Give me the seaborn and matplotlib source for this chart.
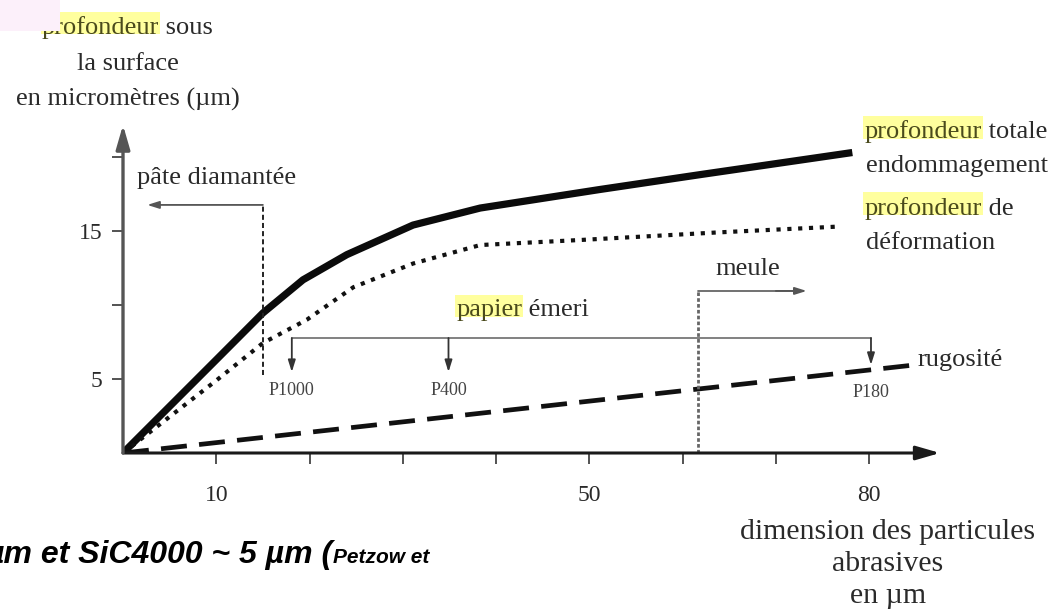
import numpy as np
import pandas as pd
import matplotlib
matplotlib.use("Agg")
import matplotlib.pyplot as plt
import matplotlib.transforms as mtransforms
from matplotlib.patches import Rectangle
import seaborn as sns

# ---------------- data (x in graduation units: 0 = origin, 1..8 = ticks) ----
x_total = [0, 1.0, 1.5, 1.93, 2.4, 3.11, 3.83, 5.11, 6.18, 7.82]
y_total = [0, 6.3, 9.46, 11.7, 13.4, 15.4, 16.55, 17.8, 18.8, 20.3]
x_deform = [0, 1.0, 1.5, 1.97, 2.47, 3.11, 3.83, 4.93, 6.37, 7.68]
y_deform = [0, 4.9, 7.43, 9.0, 11.2, 12.8, 14.05, 14.4, 14.9, 15.3]
x_rug = [0, 8.49]
y_rug = [0, 5.95]

x_ticks = [1, 2, 3, 4, 5, 6, 7, 8]
x_ticklabels = ['10', '', '', '', '50', '', '', '80']
y_ticks = [5, 10, 15, 20]
y_ticklabels = ['5', '', '15', '']

paper_grades = ['P1000', 'P400', 'P180']
paper_x = [1.81, 3.49, 8.02]

# ---------------- style ----------------
sns.set_style("white")
plt.rcParams['font.family'] = ['Liberation Serif', 'DejaVu Serif']
TXT = '#2a2a2a'
HL_TXT = '#4a4a1c'
HL = '#ffff9e'
FS = 19

fig = plt.figure(figsize=(10.59, 6.15), dpi=100)
ax = fig.add_axes([123/1059, 162/615, 817/1059, 328/615])
ax.set_facecolor('white')

sns.lineplot(data=pd.DataFrame({'x': x_total, 'y': y_total}), x='x', y='y', ax=ax,
             color='#0b0b0b', linewidth=5.2, sort=False, solid_capstyle='butt')
sns.lineplot(data=pd.DataFrame({'x': x_deform, 'y': y_deform}), x='x', y='y', ax=ax,
             color='#111111', linewidth=3.0, linestyle=(0, (1, 1.6)), sort=False)
sns.lineplot(data=pd.DataFrame({'x': x_rug, 'y': y_rug}), x='x', y='y', ax=ax,
             color='#111111', linewidth=3.4, linestyle=(0, (5.5, 2.6)), sort=False)

ax.set_xlim(0, 8.76)
ax.set_ylim(0, 22.16)
ax.set_xlabel('')
ax.set_ylabel('')
for s in ax.spines.values():
    s.set_visible(False)
ax.set_xticks(x_ticks, x_ticklabels)
ax.set_yticks(y_ticks, y_ticklabels)
ax.tick_params(bottom=True, left=True, direction='out', length=8, width=1.3,
               colors='#444444', labelcolor=TXT, labelsize=17)
ax.tick_params(axis='x', pad=15)
ax.tick_params(axis='y', pad=7)

# axis arrows
ax.annotate('', xy=(1, 0), xytext=(0, 0), xycoords='axes fraction',
            arrowprops=dict(arrowstyle='-|>,head_length=1.45,head_width=0.42',
                            lw=2.2, color='#1a1a1a', shrinkA=0, shrinkB=0,
                            mutation_scale=10), annotation_clip=False)
ax.annotate('', xy=(0, 1), xytext=(0, 0), xycoords='axes fraction',
            arrowprops=dict(arrowstyle='-|>,head_length=1.45,head_width=0.42',
                            lw=2.4, color='#555555', shrinkA=0, shrinkB=0,
                            mutation_scale=10), annotation_clip=False)

small_arrow = dict(arrowstyle='-|>,head_length=0.7,head_width=0.22', lw=1.3,
                   color='#555555', shrinkA=0, shrinkB=0, mutation_scale=10)

# pâte diamantée
ax.plot([1.5, 1.5], [5.27, 16.76], color='#222222', lw=1.4, ls=(0, (2.6, 1.6)),
        clip_on=False)
ax.annotate('', xy=(0.26, 16.76), xytext=(1.5, 16.76), arrowprops=small_arrow,
            annotation_clip=False)
ax.text(0.15, 18.6, 'pâte diamantée', fontsize=FS, color=TXT, ha='left', va='center')

# meule
ax.plot([6.17, 6.17], [0, 10.95], color='#666666', lw=2.0, ls=(0, (1.3, 0.8)),
        clip_on=False)
ax.plot([6.17, 7.25], [10.95, 10.95], color='#666666', lw=1.3)
ax.annotate('', xy=(7.33, 10.95), xytext=(7.0, 10.95), arrowprops=small_arrow,
            annotation_clip=False)
ax.text(6.7, 12.4, 'meule', fontsize=FS, color=TXT, ha='center', va='center')

# papier émeri bracket
ax.plot([paper_x[0], paper_x[-1]], [7.77, 7.77], color='#777777', lw=1.3)
for px_, yend in zip(paper_x, [5.47, 5.47, 5.95]):
    ax.annotate('', xy=(px_, yend), xytext=(px_, 7.77),
                arrowprops=dict(small_arrow, color='#333333'), annotation_clip=False)
for name, px_, yy in zip(paper_grades, paper_x, [4.19, 4.19, 4.12]):
    ax.text(px_, yy, name, fontsize=13, color='#444444', ha='center', va='center')

highlight_words = []

def two_part(x, y, word, rest, ha_word='left', fs=FS):
    t = ax.text(x, y, word, fontsize=fs, color=HL_TXT, ha=ha_word, va='center',
                clip_on=False, zorder=5)
    ax.annotate(rest, xy=(1, 0), xycoords=t, fontsize=fs, color=TXT,
                ha='left', va='bottom', annotation_clip=False, zorder=5)
    highlight_words.append(t)
    return t

two_part(4.28, 9.66, 'papier', ' émeri', ha_word='right')

# right labels
two_part(7.95, 21.7, 'profondeur', ' totale')
ax.text(7.97, 19.36, 'endommagement', fontsize=FS, color=TXT, ha='left', va='center')
two_part(7.95, 16.55, 'profondeur', ' de')
ax.text(7.97, 14.19, 'déformation', fontsize=FS, color=TXT, ha='left', va='center')
ax.text(8.52, 6.28, 'rugosité', fontsize=FS, color=TXT, ha='left', va='center')

# y axis title
two_part(0.386, 28.75, 'profondeur', ' sous', ha_word='right')
ax.text(0.05, 26.25, 'la surface', fontsize=FS, color=TXT, ha='center', va='center',
        clip_on=False)
ax.text(0.05, 23.9, 'en micromètres (µm)', fontsize=FS, color=TXT, ha='center',
        va='center', clip_on=False)

# x axis title
ax.text(8.2, -4.45, 'dimension des particules\nabrasives\nen µm', fontsize=21.5,
        color=TXT, ha='center', va='top', linespacing=1.3, multialignment='center',
        clip_on=False)

# bottom-left cropped caption
cap = fig.text(-0.013, (615 - 563) / 615, 'µm et SiC4000 ~ 5 µm (',
               family=['Liberation Sans', 'DejaVu Sans'], weight='bold', style='italic',
               fontsize=23, color='black', va='baseline', ha='left')
fig.canvas.draw()
plt.annotate('Petzow et', xy=(1, 0.24), xycoords=cap, fontsize=15,
             family=['Liberation Sans', 'DejaVu Sans'], weight='bold',
             style='italic', color='black', ha='left', va='baseline',
             annotation_clip=False)

# yellow highlights behind words
fig.canvas.draw()
for t in highlight_words:
    bb = t.get_window_extent()
    h = bb.height
    r = Rectangle((bb.x0 - 1, bb.y0 + 0.2 * h), bb.width + 2, h * 0.98,
                  transform=mtransforms.IdentityTransform(), fc=HL, ec='none',
                  zorder=1, clip_on=False)
    ax.add_patch(r)

# pink scan artefact, top-left, lying over the start of the first word
ax.add_patch(Rectangle((0, 615 - 31), 60, 31, transform=mtransforms.IdentityTransform(),
                       fc='#fcf0fa', ec='none', zorder=10, clip_on=False))

fig.savefig('out.png', dpi=100, facecolor='white')
